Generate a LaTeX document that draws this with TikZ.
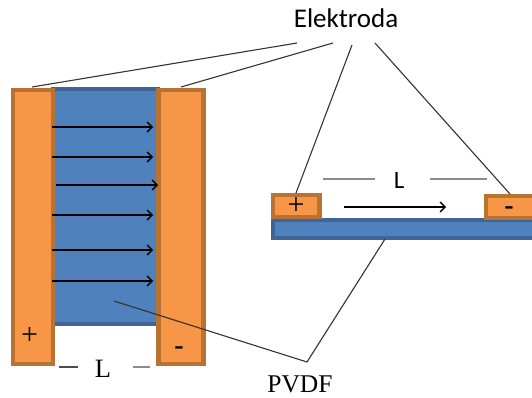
\documentclass[tikz,border=0pt]{standalone}
\usepackage{fontspec}
\setmainfont{Liberation Serif}
\newfontfamily\calib{Carlito}
\usetikzlibrary{arrows.meta}
\definecolor{orfill}{HTML}{F79646}
\definecolor{orline}{HTML}{B87333}
\definecolor{blfill}{HTML}{4F81BD}
\definecolor{blline}{HTML}{3F6598}
\definecolor{gline}{HTML}{8C8C8C}
\begin{document}
\begin{tikzpicture}[x=1pt,y=-1pt,
  electrode/.style={fill=orfill,draw=orline,line width=4.5pt},
  film/.style={fill=blfill,draw=blline,line width=4pt},
  field/.style={draw=black,line width=1.4pt,-{Straight Barb[length=5pt,width=10pt,line width=1.4pt]}},
  leader/.style={draw=black!80,line width=1.1pt},
  dim/.style={draw=gline,line width=2pt},
  lab/.style={inner sep=0pt,anchor=base,font=\fontsize{26.5}{29}\selectfont},
  sanslab/.style={inner sep=0pt,anchor=base,font=\calib\fontsize{27}{29}\selectfont},
  plus/.style={inner sep=0pt,font=\fontsize{30}{32}\selectfont},
  minus/.style={inner sep=0pt,font=\bfseries\fontsize{28}{30}\selectfont}]
\useasboundingbox (0,0) rectangle (532,398);
\draw[film] (53,89.5) rectangle (158,324);
\draw[electrode] (13,90) rectangle (53,364);
\draw[electrode] (158.5,90) rectangle (203.5,364);
\foreach \y/\a/\b in {127/52/153,157/52/153,185/56/158,215/52/153,250/52/153,281/52/153}
  \draw[field] (\a,\y) -- (\b,\y);
\node[plus] (p1) at (29.7,336.5) {+};
\node[minus] (m1) at (179,351) {-};
\node[lab] (L1) at (103,377) {L};
\coordinate (d1a) at (59,366.5); \coordinate (d1b) at (78,366.5);
\coordinate (d1c) at (133,367); \coordinate (d1d) at (150,367);
\draw[dim,draw=black!70] (d1a) -- (d1b);
\draw[dim] (d1c) -- (d1d);
% right part
\draw[film] (273,220) rectangle (534,238);
\draw[electrode] (273,195) rectangle (319.5,217);
\draw[electrode] (486,196) rectangle (534,218);
\node[plus] (p2) at (296,206) {+};
\node[minus] (m2) at (509,211) {-};
\node[sanslab,font=\calib\fontsize{25}{27}\selectfont] (L2) at (399,189) {L};
\coordinate (d2a) at (323,178.7); \coordinate (d2b) at (375,178.7);
\coordinate (d2c) at (430,178.7); \coordinate (d2d) at (487,178.7);
\draw[dim] (d2a) -- (d2b);
\draw[dim] (d2c) -- (d2d);
\coordinate (f2a) at (344,207); \coordinate (f2b) at (446,207);
\draw[field] (f2a) -- (f2b);
% labels
\node[sanslab] (E) at (346,28) {Elektroda};
\node[lab,font=\fontsize{25.5}{28}\selectfont] (P) at (300,392) {PVDF};
\coordinate (e1) at (32,87); \coordinate (e2) at (181,87);
\coordinate (e3) at (296,193); \coordinate (e4) at (510,194);
\coordinate (hub1) at (297,43); \coordinate (hub2) at (333,43);
\coordinate (hub3) at (352,45); \coordinate (hub4) at (375,43);
\draw[leader] (e1) -- (hub1);
\draw[leader] (e2) -- (hub2);
\draw[leader] (e3) -- (hub3);
\draw[leader] (e4) -- (hub4);
\coordinate (v) at (307,362); \coordinate (t1) at (114,301); \coordinate (t2) at (385,239);
\draw[leader] (t1) -- (v) -- (t2);
\end{tikzpicture}
\end{document}
